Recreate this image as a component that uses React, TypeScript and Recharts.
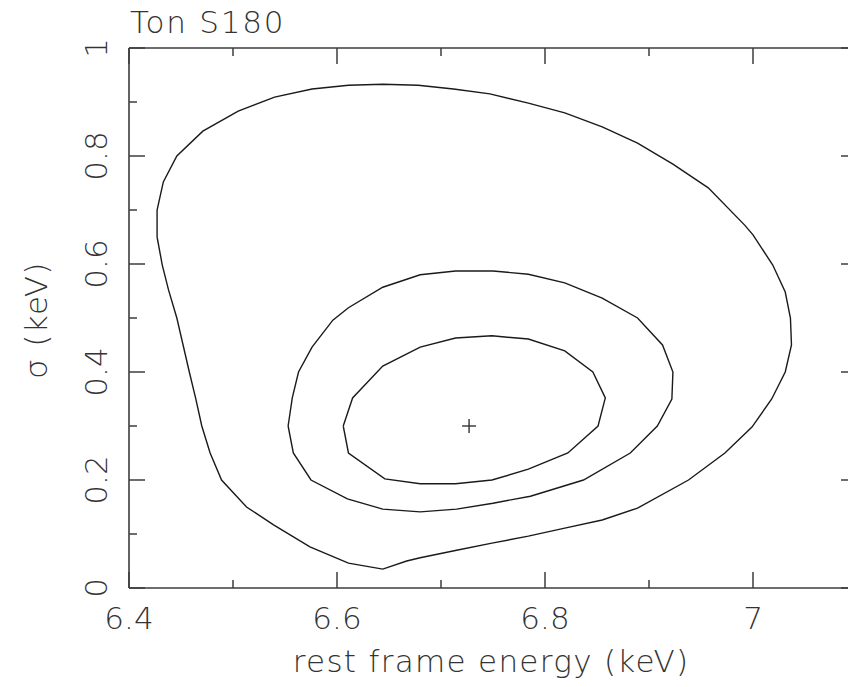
import { ComposedChart, Line, Scatter, XAxis, YAxis } from "recharts";

// confidence contours (x = rest frame energy keV, y = sigma keV)
const OUTER = [
  { x: 6.427, y: 0.65 }, { x: 6.427, y: 0.7 }, { x: 6.433, y: 0.752 }, { x: 6.446, y: 0.8 },
  { x: 6.471, y: 0.846 }, { x: 6.505, y: 0.883 }, { x: 6.54, y: 0.909 }, { x: 6.576, y: 0.924 },
  { x: 6.611, y: 0.931 }, { x: 6.644, y: 0.933 }, { x: 6.678, y: 0.931 }, { x: 6.712, y: 0.924 },
  { x: 6.747, y: 0.915 }, { x: 6.784, y: 0.898 }, { x: 6.819, y: 0.88 }, { x: 6.855, y: 0.854 },
  { x: 6.889, y: 0.824 }, { x: 6.923, y: 0.785 }, { x: 6.957, y: 0.741 }, { x: 6.992, y: 0.672 },
  { x: 7.0, y: 0.654 }, { x: 7.019, y: 0.598 }, { x: 7.031, y: 0.548 }, { x: 7.036, y: 0.5 },
  { x: 7.037, y: 0.45 }, { x: 7.031, y: 0.4 }, { x: 7.018, y: 0.35 }, { x: 6.999, y: 0.298 },
  { x: 6.973, y: 0.25 }, { x: 6.938, y: 0.2 }, { x: 6.889, y: 0.148 }, { x: 6.855, y: 0.126 },
  { x: 6.819, y: 0.111 }, { x: 6.784, y: 0.096 }, { x: 6.749, y: 0.083 }, { x: 6.715, y: 0.07 },
  { x: 6.68, y: 0.056 }, { x: 6.667, y: 0.05 }, { x: 6.644, y: 0.035 }, { x: 6.611, y: 0.046 },
  { x: 6.574, y: 0.076 }, { x: 6.539, y: 0.117 }, { x: 6.513, y: 0.15 }, { x: 6.489, y: 0.2 },
  { x: 6.478, y: 0.25 }, { x: 6.47, y: 0.3 }, { x: 6.464, y: 0.352 }, { x: 6.458, y: 0.4 },
  { x: 6.452, y: 0.45 }, { x: 6.446, y: 0.5 }, { x: 6.438, y: 0.552 }, { x: 6.432, y: 0.598 },
];

const MIDDLE = [
  { x: 6.553, y: 0.3 }, { x: 6.557, y: 0.352 }, { x: 6.563, y: 0.4 }, { x: 6.576, y: 0.446 },
  { x: 6.596, y: 0.496 }, { x: 6.611, y: 0.519 }, { x: 6.644, y: 0.557 }, { x: 6.68, y: 0.58 },
  { x: 6.714, y: 0.587 }, { x: 6.75, y: 0.587 }, { x: 6.784, y: 0.581 }, { x: 6.819, y: 0.565 },
  { x: 6.855, y: 0.537 }, { x: 6.889, y: 0.5 }, { x: 6.913, y: 0.45 }, { x: 6.923, y: 0.4 },
  { x: 6.922, y: 0.35 }, { x: 6.908, y: 0.3 }, { x: 6.882, y: 0.25 }, { x: 6.837, y: 0.2 },
  { x: 6.786, y: 0.17 }, { x: 6.75, y: 0.157 }, { x: 6.715, y: 0.146 }, { x: 6.68, y: 0.141 },
  { x: 6.644, y: 0.146 }, { x: 6.61, y: 0.165 }, { x: 6.575, y: 0.2 }, { x: 6.558, y: 0.25 },
];

const INNER = [
  { x: 6.606, y: 0.3 }, { x: 6.615, y: 0.352 }, { x: 6.644, y: 0.411 }, { x: 6.68, y: 0.446 },
  { x: 6.714, y: 0.463 }, { x: 6.749, y: 0.467 }, { x: 6.784, y: 0.461 }, { x: 6.819, y: 0.439 },
  { x: 6.846, y: 0.4 }, { x: 6.858, y: 0.352 }, { x: 6.851, y: 0.3 }, { x: 6.822, y: 0.25 },
  { x: 6.784, y: 0.22 }, { x: 6.749, y: 0.2 }, { x: 6.714, y: 0.193 }, { x: 6.68, y: 0.193 },
  { x: 6.646, y: 0.202 }, { x: 6.611, y: 0.25 },
];

const BEST_FIT = [{ x: 6.727, y: 0.3 }];

const X_TICKS = [6.4, 6.5, 6.6, 6.7, 6.8, 6.9, 7.0, 7.1];
const X_MAJOR = [6.4, 6.6, 6.8, 7.0];
const Y_TICKS = [0, 0.1, 0.2, 0.3, 0.4, 0.5, 0.6, 0.7, 0.8, 0.9, 1];
const Y_MAJOR = [0, 0.2, 0.4, 0.6, 0.8, 1];

const INK = "#1a1a1a";
const FRAME = "#3c3c3c";
const FONT = "'DejaVu Sans', sans-serif";
const TEXT = { fill: "#333", fontFamily: FONT, fontSize: 31, fontWeight: 200 } as const;

const closed = (pts: { x: number; y: number }[]) => [...pts, pts[0]];
const fmt = (v: number) => String(v);

function tickLen(v: number, major: number[]) {
  return major.includes(v) ? 16 : 8;
}

function BottomTick({ x, y, payload }: any) {
  const v = payload.value;
  return (
    <g>
      <line x1={x} x2={x} y1={y} y2={y - tickLen(v, X_MAJOR)} stroke={FRAME} strokeWidth={1.5} />
      {X_MAJOR.includes(v) && (
        <text x={x} y={y + 41} textAnchor="middle" {...TEXT}>
          {fmt(v)}
        </text>
      )}
    </g>
  );
}

function TopTick({ x, y, payload }: any) {
  return <line x1={x} x2={x} y1={y} y2={y + tickLen(payload.value, X_MAJOR)} stroke={FRAME} strokeWidth={1.5} />;
}

function LeftTick({ x, y, payload }: any) {
  const v = payload.value;
  return (
    <g>
      <line x1={x} x2={x + tickLen(v, Y_MAJOR)} y1={y} y2={y} stroke={FRAME} strokeWidth={1.5} />
      {Y_MAJOR.includes(v) && (
        <text x={0} y={0} transform={`translate(${x - 22},${y}) rotate(-90)`} textAnchor="middle" {...TEXT}>
          {fmt(v)}
        </text>
      )}
    </g>
  );
}

function RightTick({ x, y, payload }: any) {
  return <line x1={x} x2={x - tickLen(payload.value, Y_MAJOR)} y1={y} y2={y} stroke={FRAME} strokeWidth={1.5} />;
}

function Cross({ cx, cy }: any) {
  return (
    <g stroke="#333" strokeWidth={1.4}>
      <line x1={cx - 7} x2={cx + 7} y1={cy} y2={cy} />
      <line x1={cx} x2={cx} y1={cy - 7} y2={cy + 7} />
    </g>
  );
}

const axisLine = { stroke: FRAME, strokeWidth: 1.6 };

export default function App() {
  return (
    <div style={{ position: "absolute", left: 0, top: 0, width: 848, height: 687, overflow: "hidden", background: "#fff" }}>
      <ComposedChart width={880} height={687} margin={{ top: 18, right: 0, bottom: 0, left: 0 }}>
        <XAxis
          xAxisId="b"
          dataKey="x"
          type="number"
          domain={[6.4, 7.1]}
          ticks={X_TICKS}
          interval={0}
          height={99}
          tickSize={0}
          tickMargin={0}
          tickLine={false}
          axisLine={axisLine}
          tick={<BottomTick />}
          allowDataOverflow
        />
        <XAxis
          xAxisId="t"
          orientation="top"
          dataKey="x"
          type="number"
          domain={[6.4, 7.1]}
          ticks={X_TICKS}
          interval={0}
          height={30}
          tickSize={0}
          tickMargin={0}
          tickLine={false}
          axisLine={axisLine}
          tick={<TopTick />}
          allowDataOverflow
        />
        <YAxis
          yAxisId="l"
          dataKey="y"
          type="number"
          domain={[0, 1]}
          ticks={Y_TICKS}
          interval={0}
          width={129}
          tickSize={0}
          tickMargin={0}
          tickLine={false}
          axisLine={axisLine}
          tick={<LeftTick />}
          allowDataOverflow
        />
        <YAxis
          yAxisId="r"
          orientation="right"
          dataKey="y"
          type="number"
          domain={[0, 1]}
          ticks={Y_TICKS}
          interval={0}
          width={23}
          tickSize={0}
          tickMargin={0}
          tickLine={false}
          axisLine={axisLine}
          tick={<RightTick />}
          allowDataOverflow
        />
        {[OUTER, MIDDLE, INNER].map((c, i) => (
          <Line
            key={i}
            xAxisId="b"
            yAxisId="l"
            data={closed(c)}
            dataKey="y"
            type="linear"
            stroke={INK}
            strokeWidth={1.4}
            dot={false}
            activeDot={false}
            isAnimationActive={false}
          />
        ))}
        <Scatter xAxisId="b" yAxisId="l" data={BEST_FIT} dataKey="y" shape={<Cross />} isAnimationActive={false} />
        <text x={130} y={33} {...TEXT} letterSpacing={1.8}>
          Ton S180
        </text>
        <text x={491} y={672} textAnchor="middle" {...TEXT} letterSpacing={1.3}>
          rest frame energy (keV)
        </text>
        <text x={0} y={0} transform="translate(47,320) rotate(-90)" textAnchor="middle" {...TEXT} letterSpacing={1.3}>
          σ (keV)
        </text>
      </ComposedChart>
    </div>
  );
}
